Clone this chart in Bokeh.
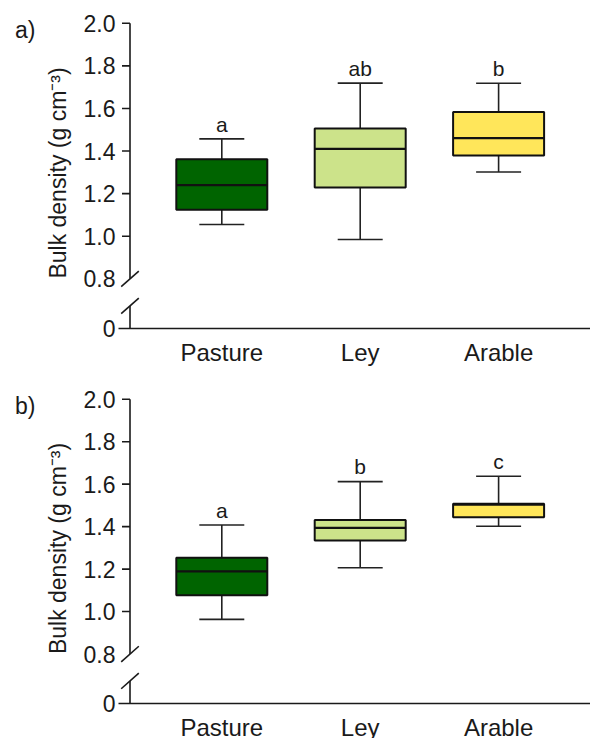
from bokeh.plotting import figure
from bokeh.models import Range1d, FixedTicker, PrintfTickFormatter, LinearAxis
from bokeh.layouts import column
from bokeh.embed import file_html
from bokeh.resources import INLINE
from bokeh.core.properties import value

# ---------------- data ----------------
categories = ["Pasture", "Ley", "Arable"]
x_pos = [1, 2, 3]
colors = ["#006400", "#cce38a", "#ffe65a"]

a_low = [1.055, 0.985, 1.302]
a_q1 = [1.124, 1.229, 1.379]
a_median = [1.240, 1.410, 1.461]
a_q3 = [1.362, 1.506, 1.583]
a_high = [1.457, 1.719, 1.718]
a_letters = ["a", "ab", "b"]

b_low = [0.963, 1.206, 1.402]
b_q1 = [1.077, 1.335, 1.444]
b_median = [1.189, 1.394, 1.503]
b_q3 = [1.253, 1.431, 1.508]
b_high = [1.408, 1.612, 1.637]
b_letters = ["a", "b", "c"]

y_ticks = [0.8, 1.0, 1.2, 1.4, 1.6, 1.8, 2.0]
y_title = "Bulk density (g cm\u207b\u00b3)"

# ---------------- layout constants ----------------
FONT = "Liberation Sans"
TXT = "#1a1a1a"
X_START, X_END = 0.2536, 3.664
AXIS_X = 0.3367
TICK_LEN = 0.0578
Y_ZERO = 0.567          # where the "0" sits below the axis break
Y_END = 2.027
BREAK_HI, BREAK_LO = 0.80, 0.673
SL_DX, SL_DY = 0.0636, 0.0366
BOX_W = 0.6575
CAP_W = 0.325
LETTER_GAP = 0.07
TAG_Y = 1.966


def panel(tag, low, q1, med, q3, high, letters, height, top, bottom):
    p = figure(width=590, height=height,
               x_range=Range1d(X_START, X_END), y_range=Range1d(Y_ZERO, Y_END),
               output_backend="svg", toolbar_location=None,
               min_border_left=118, min_border_right=0,
               min_border_top=top, min_border_bottom=bottom)
    p.outline_line_color = None
    p.xgrid.visible = False
    p.ygrid.visible = False
    p.background_fill_color = "white"
    p.border_fill_color = "white"

    # y axis: labels only (line/ticks drawn below to show the break)
    ya = p.yaxis[0]
    ya.ticker = FixedTicker(ticks=[Y_ZERO] + y_ticks)
    ya.formatter = PrintfTickFormatter(format="%.1f")
    ya.major_label_overrides = {Y_ZERO: "0"}
    ya.axis_line_color = None
    ya.major_tick_line_color = None
    ya.minor_tick_line_color = None
    ya.major_tick_out = 0
    ya.major_tick_in = 0
    ya.major_label_standoff = 3
    ya.major_label_text_font = FONT
    ya.major_label_text_font_size = "23px"
    ya.major_label_text_color = TXT
    ya.axis_label = y_title
    ya.axis_label_standoff = 10
    ya.axis_label_text_font = FONT
    ya.axis_label_text_font_size = "23px"
    ya.axis_label_text_font_style = "normal"
    ya.axis_label_text_color = TXT

    # outer left axis carrying only the panel tag
    tag_axis = LinearAxis(ticker=FixedTicker(ticks=[TAG_Y]),
                          major_label_overrides={TAG_Y: tag})
    tag_axis.axis_line_color = None
    tag_axis.major_tick_line_color = None
    tag_axis.minor_tick_line_color = None
    tag_axis.major_tick_out = 0
    tag_axis.major_tick_in = 0
    tag_axis.major_label_standoff = 6
    tag_axis.major_label_text_font = FONT
    tag_axis.major_label_text_font_size = "23px"
    tag_axis.major_label_text_color = TXT
    p.add_layout(tag_axis, "left")

    xa = p.xaxis[0]
    xa.ticker = FixedTicker(ticks=x_pos)
    xa.major_label_overrides = dict(zip(x_pos, categories))
    xa.axis_line_color = "#1a1a1a"
    xa.axis_line_width = 1.6
    xa.major_tick_line_color = None
    xa.minor_tick_line_color = None
    xa.major_tick_out = 0
    xa.major_tick_in = 0
    xa.major_label_standoff = 10
    xa.major_label_text_font = FONT
    xa.major_label_text_font_size = "24px"
    xa.major_label_text_color = TXT

    # broken y axis line, ticks, break marks
    p.segment(x0=[AXIS_X, AXIS_X], y0=[BREAK_HI, Y_ZERO],
              x1=[AXIS_X, AXIS_X], y1=[y_ticks[-1], BREAK_LO],
              line_color="#1a1a1a", line_width=1.6)
    tks = y_ticks[1:]
    p.segment(x0=[AXIS_X - TICK_LEN] * len(tks), y0=tks,
              x1=[AXIS_X] * len(tks), y1=tks,
              line_color="#1a1a1a", line_width=1.6)
    brk = [BREAK_HI, BREAK_LO]
    p.segment(x0=[AXIS_X - SL_DX] * 2, y0=[b - SL_DY for b in brk],
              x1=[AXIS_X + SL_DX] * 2, y1=[b + SL_DY for b in brk],
              line_color="#1a1a1a", line_width=1.6)

    # whiskers
    p.segment(x0=x_pos, y0=q3, x1=x_pos, y1=high, line_color="#222222", line_width=1.6)
    p.segment(x0=x_pos, y0=q1, x1=x_pos, y1=low, line_color="#222222", line_width=1.6)
    p.segment(x0=[x - CAP_W / 2 for x in x_pos], y0=high,
              x1=[x + CAP_W / 2 for x in x_pos], y1=high,
              line_color="#222222", line_width=1.6)
    p.segment(x0=[x - CAP_W / 2 for x in x_pos], y0=low,
              x1=[x + CAP_W / 2 for x in x_pos], y1=low,
              line_color="#222222", line_width=1.6)

    # boxes and medians
    p.vbar(x=x_pos, bottom=q1, top=q3, width=BOX_W, fill_color=colors,
           line_color="#111111", line_width=2)
    p.segment(x0=[x - BOX_W / 2 for x in x_pos], y0=med,
              x1=[x + BOX_W / 2 for x in x_pos], y1=med,
              line_color="#111111", line_width=2.2)

    # significance letters
    p.text(x=x_pos, y=[h + LETTER_GAP for h in high], text=letters,
           text_align="center", text_baseline="alphabetic",
           text_font=value(FONT), text_font_size="21px", text_color=TXT)
    return p


pa = panel("a)", a_low, a_q1, a_median, a_q3, a_high, a_letters, 383, 17, 55)
pb = panel("b)", b_low, b_q1, b_median, b_q3, b_high, b_letters, 360, 10, 39)

layout = column(pa, pb, width=590, height=738, styles={"overflow": "hidden"})

with open("out.html", "w") as f:
    f.write(file_html(layout, INLINE))
